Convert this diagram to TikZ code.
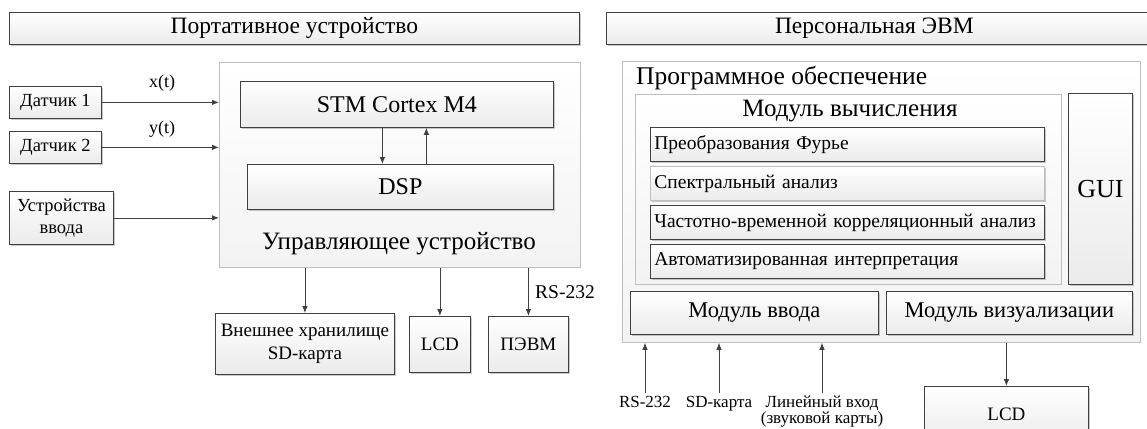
\documentclass[tikz,border=0pt]{standalone}
\usepackage{fontspec}
\setmainfont{Liberation Serif}
\usetikzlibrary{arrows.meta,shadows}
\definecolor{dk}{HTML}{404040}
\definecolor{lt}{HTML}{BFBFBF}
\definecolor{fb}{HTML}{EBEBEB}
\definecolor{cf}{HTML}{F3F3F3}
\newcommand\fsz[1]{\fontsize{#1pt}{\dimexpr#1pt*6/5\relax}\selectfont}
\tikzset{
  bx/.style={draw=dk, line width=0.8pt, top color=white, bottom color=fb,
    inner sep=0pt, anchor=north west, align=center,
    drop shadow={shadow xshift=1.3pt, shadow yshift=-1.3pt, opacity=0.35, fill=black!60}},
  cont/.style={draw=lt, line width=0.8pt, top color=white, bottom color=cf,
    inner sep=0pt, anchor=north west},
  lb/.style={bx, inner xsep=4pt, align=left, text width=#1},
  arr/.style={draw=dk, line width=0.8pt, -{Latex[length=7pt,width=5.5pt]}},
  txt/.style={inner sep=1pt, align=center},
  inlab/.style={inner xsep=1pt, inner ysep=3pt, align=center, anchor=north,
    font={\fontsize{17pt}{13.5pt}\selectfont}}
}
\begin{document}
\begin{tikzpicture}[x=1pt,y=-1pt]
\useasboundingbox (0,0) rectangle (1147,428);
% ---------- left part ----------
\node[bx, minimum width=570pt, minimum height=32pt, font=\fsz{23.5}] (hdrL) at (9,12) {Портативное устройство};
\node[cont, minimum width=361pt, minimum height=205pt] (main) at (219,62) {};
\node[bx, minimum width=313pt, minimum height=46pt, font=\fsz{24}] (stm) at (240,81) {STM Cortex M4};
\node[bx, minimum width=306pt, minimum height=45pt, font=\fsz{24}] (dsp) at (247,164) {DSP};
\node[txt, font=\fsz{25}] (ctl) at (399,244) {Управляющее устройство};
\node[bx, minimum width=92pt, minimum height=32pt, font=\fsz{18.5}] (d1) at (9,86) {Датчик 1};
\node[bx, minimum width=92pt, minimum height=32pt, font=\fsz{18.5}] (d2) at (9,131) {Датчик 2};
\node[bx, minimum width=104pt, minimum height=53pt, font=\fsz{18.5}] (inp) at (9,191) {Устройства\\ввода};
\node[txt, font=\fsz{18}] (xt) at (162,83) {x(t)};
\node[txt, font=\fsz{18}] (yt) at (162,129) {y(t)};
\node[bx, minimum width=179pt, minimum height=61pt, font=\fsz{19}] (ext) at (215,313) {Внешнее хранилище\\SD-карта};
\node[bx, minimum width=61pt, minimum height=56pt, font=\fsz{19}] (lcdA) at (409,316) {LCD};
\node[bx, minimum width=80pt, minimum height=56pt, font=\fsz{19}] (pc) at (488,316) {ПЭВМ};
\node[txt, font=\fsz{19.5}, anchor=west] (rsL) at (534,292) {RS-232};
\draw[arr] (d1.east) -- (d1.east -| main.west);
\draw[arr] (d2.east) -- (d2.east -| main.west);
\draw[arr] (inp.east) -- (inp.east -| main.west);
\draw[arr] ([xshift=-14.5pt]stm.south) -- ([xshift=-14.5pt]stm.south |- dsp.north);
\draw[arr] ([xshift=29.5pt]stm.south |- dsp.north) -- ([xshift=29.5pt]stm.south);
\draw[arr] (main.south -| ext.north) -- (ext.north);
\draw[arr] (main.south -| lcdA.north) -- (lcdA.north);
\draw[arr] (main.south -| pc.north) -- (pc.north);
% ---------- right part ----------
\node[bx, minimum width=546pt, minimum height=32pt, font=\fsz{23.5}] (hdrR) at (606,12) {\hspace*{-10pt}Персональная ЭВМ};
\node[cont, minimum width=518pt, minimum height=281pt] (sw) at (622,61) {};
\node[txt, font=\fsz{25.5}, anchor=west] (swt) at (635,78) {Программное обеспечение};
\node[cont, minimum width=426pt, minimum height=190pt] (calc) at (635,94) {};
\node[txt, font=\fsz{25}] (calct) at (850,111) {Модуль вычисления};
\node[lb=386pt, minimum height=34pt, font=\fsz{19.5}] (f1) at (650,127) {Преобразования Фурье};
\node[lb=386pt, minimum height=34pt, font=\fsz{19.5}, draw=lt] (f2) at (650,166) {Спектральный анализ};
\node[lb=386pt, minimum height=34pt, font=\fsz{19.5}] (f3) at (650,205) {Частотно-временной корреляционный анализ};
\node[lb=386pt, minimum height=34pt, font=\fsz{19.5}] (f4) at (650,244) {Автоматизированная интерпретация};
\node[bx, minimum width=64pt, minimum height=191pt, font=\fsz{26}] (gui) at (1068,93) {GUI};
\node[bx, minimum width=248pt, minimum height=43pt, font=\fsz{22.5}] (inm) at (630,291) {Модуль ввода};
\node[bx, minimum width=246pt, minimum height=43pt, font=\fsz{22.5}] (vis) at (886,291) {Модуль визуализации};
\node[bx, minimum width=164pt, minimum height=56pt, font=\fsz{19}] (lcdB) at (924,386) {LCD};
\node[inlab] (l1) at (645,393) {RS-232};
\node[inlab] (l2) at (719,393) {SD-карта};
\node[inlab] (l3) at (822,393) {Линейный вход\\(звуковой карты)};
\draw[arr] (l1.north) -- (l1.north |- sw.south);
\draw[arr] (l2.north) -- (l2.north |- sw.south);
\draw[arr] (l3.north) -- (l3.north |- sw.south);
\draw[arr] (sw.south -| lcdB.north) -- (lcdB.north);
\end{tikzpicture}
\end{document}
